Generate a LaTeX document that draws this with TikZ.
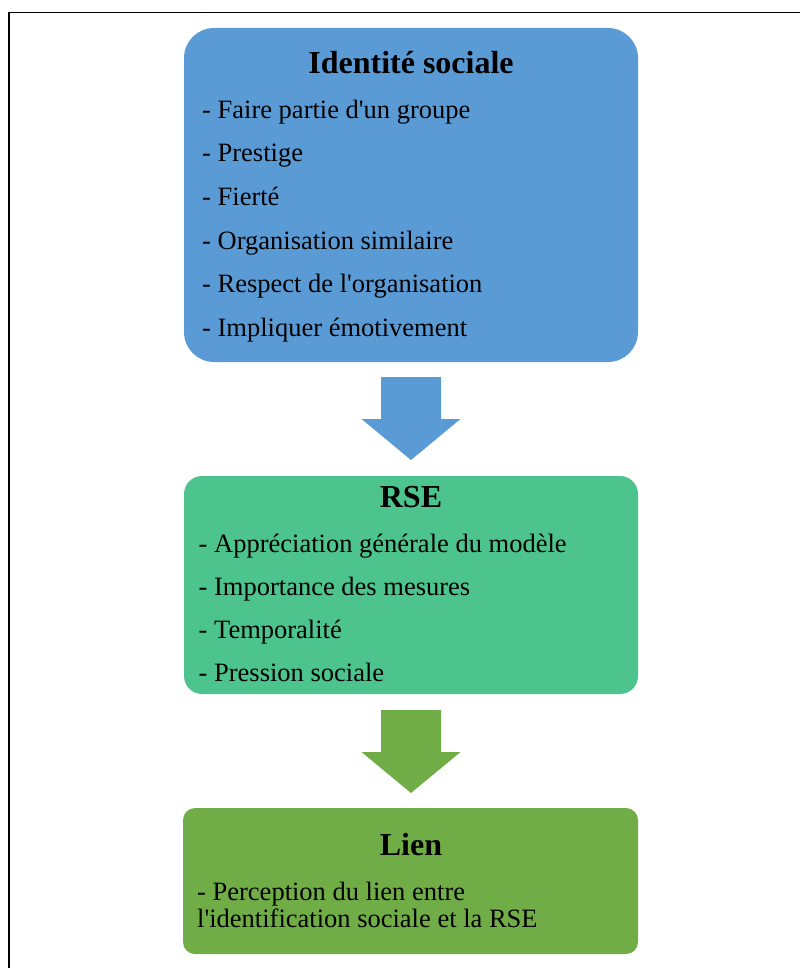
\documentclass[tikz,border=0pt]{standalone}
\usepackage{fontspec}
\setmainfont{Liberation Serif}
\begin{document}
\begin{tikzpicture}[x=1pt,y=-1pt,
  box/.style={rectangle,inner sep=0pt,outer sep=0pt,draw=none},
  boxtitle/.style={anchor=base,inner sep=0pt,font=\fontsize{32}{36}\selectfont\bfseries},
  item/.style={anchor=base west,inner sep=0pt,font=\fontsize{26.5}{29}\selectfont},
  downarrow/.pic={\fill (-30,0) -- (30,0) -- (30,42) -- (49.5,42) -- (0,83)
                    -- (-49.5,42) -- (-30,42) -- cycle;}]
\definecolor{identblue}{HTML}{5B9BD5}
\definecolor{rsegreen}{HTML}{4DC48D}
\definecolor{liengreen}{HTML}{70AD47}
\useasboundingbox (0,0) rectangle (800,968);
% page frame (top and left edges)
\draw[line width=1.5pt] (9.2,968) -- (9.2,12.5) -- (800,12.5);

% boxes
\node[box,fill=identblue,rounded corners=30pt,minimum width=454pt,minimum height=334pt] (ident) at (411,195) {};
\node[box,fill=rsegreen,rounded corners=18pt,minimum width=454pt,minimum height=218pt] (rse) at (411,585) {};
\node[box,fill=liengreen,rounded corners=12pt,minimum width=455pt,minimum height=146pt] (lien) at (410.5,881) {};

% block arrows
\path (411,377) pic[fill=identblue] {downarrow};
\path (411,710) pic[fill=liengreen] {downarrow};

% Identité sociale
\node[boxtitle] (t1) at (411,74) {Identité sociale};
\node[item] (i1) at (202,118.3) {- Faire partie d\textquotesingle un groupe};
\node[item] (i2) at (202,162) {- Prestige};
\node[item] (i3) at (202,205.6) {- Fierté};
\node[item] (i4) at (202,249.2) {- Organisation similaire};
\node[item] (i5) at (202,292.9) {- Respect de l\textquotesingle organisation};
\node[item] (i6) at (202,336.5) {- Impliquer émotivement};

% RSE
\node[boxtitle] (t2) at (411,507.7) {RSE};
\node[item] (r1) at (198.5,552.3) {- Appréciation générale du modèle};
\node[item] (r2) at (198.5,595.4) {- Importance des mesures};
\node[item] (r3) at (198.5,638.5) {- Temporalité};
\node[item] (r4) at (198.5,681.6) {- Pression sociale};

% Lien
\node[boxtitle] (t3) at (411,855) {Lien};
\node[item] (l1) at (197,900) {- Perception du lien entre};
\node[item] (l2) at (197,927.7) {l\textquotesingle identification sociale et la RSE};
\end{tikzpicture}
\end{document}
